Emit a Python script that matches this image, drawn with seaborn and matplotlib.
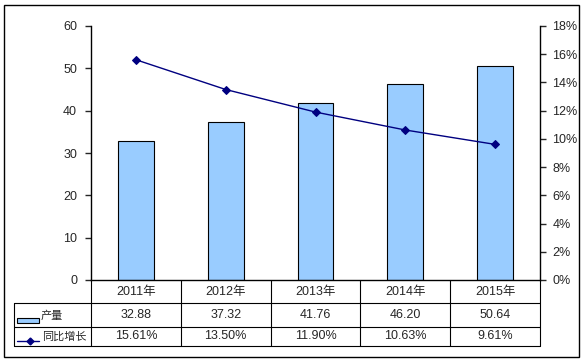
import numpy as np
import matplotlib
matplotlib.use('Agg')
import matplotlib.pyplot as plt
import matplotlib.transforms as mtransforms
from matplotlib.patches import Rectangle
from matplotlib.lines import Line2D
from matplotlib.ticker import FuncFormatter
import seaborn as sns

years = ['2011年', '2012年', '2013年', '2014年', '2015年']
output = [32.88, 37.32, 41.76, 46.20, 50.64]
growth = [15.61, 13.50, 11.90, 10.63, 9.61]
row_names = ['产量', '同比增长']

sns.set_style('white')
plt.rcParams['font.family'] = ['Liberation Sans', 'Noto Sans CJK SC']
plt.rcParams['font.size'] = 9

W, H = 585, 363
fig = plt.figure(figsize=(W / 100, H / 100), dpi=100)

# plot area in pixels: x 91..540, y 26..280
ax = fig.add_axes([91 / W, (H - 280) / H, (540 - 91) / W, (280 - 26) / H])
bar_color = '#99CCFF'
line_color = '#000080'

sns.barplot(x=years, y=output, color=bar_color, saturation=1, width=0.4,
            edgecolor='black', linewidth=0.8, ax=ax)
ax.set_xlim(-0.5, 4.5)
ax.set_ylim(0, 60)
ax.set_yticks(range(0, 61, 10))
ax.set_xticks([])
ax.set_xlabel('')
ax.set_ylabel('')
for s in ['top', 'right']:
    ax.spines[s].set_visible(False)
for s in ['left', 'bottom']:
    ax.spines[s].set_color('black')
    ax.spines[s].set_linewidth(1)
ax.tick_params(axis='y', direction='out', length=4, width=1, pad=6, left=True)

ax2 = ax.twinx()
sns.lineplot(x=np.arange(len(years)), y=growth, ax=ax2, color=line_color,
             marker='D', markersize=4, markeredgecolor=line_color, linewidth=1)
ax2.set_ylim(0, 18)
ax2.set_yticks(range(0, 19, 2))
ax2.yaxis.set_major_formatter(FuncFormatter(lambda v, p: f'{v:.0f}%'))
ax2.set_ylabel('')
for s in ['top', 'left', 'bottom']:
    ax2.spines[s].set_visible(False)
ax2.spines['right'].set_color('black')
ax2.spines['right'].set_linewidth(1)
ax2.tick_params(axis='y', direction='out', length=4, width=1, pad=5, right=True)

# data table below the plot area
trans = mtransforms.blended_transform_factory(ax.transData, ax.transAxes)
ph = 280 - 26
y0, y1, y2, y3 = 0, -23 / ph, -46.5 / ph, -66 / ph
lk = dict(color='black', lw=0.8, clip_on=False)
for y in [y1, y2, y3]:
    ax.plot([-0.5, 4.5], [y, y], transform=trans, **lk)
for x in np.arange(-0.5, 5.0, 1.0):
    ax.plot([x, x], [y0, y3], transform=trans, **lk)

for i, yr in enumerate(years):
    ax.text(i, (y0 + y1) / 2, yr, transform=trans, ha='center', va='center')
    ax.text(i, (y1 + y2) / 2, f'{output[i]:.2f}', transform=trans,
            ha='center', va='center')
    ax.text(i, (y2 + y3) / 2, f'{growth[i]:.2f}%', transform=trans,
            ha='center', va='center')

# legend column (figure pixel coords)
ftr = fig.transFigure
def fx(px):
    return px / W
def fy(py):
    return (H - py) / H

for py in [303.3, 326.7, 346]:
    fig.add_artist(Line2D([fx(13.5), fx(91)], [fy(py), fy(py)], color='black', lw=0.8, transform=ftr))
fig.add_artist(Line2D([fx(13.5), fx(13.5)], [fy(303.3), fy(346)], color='black', lw=0.8, transform=ftr))

fig.add_artist(Rectangle((fx(17), fy(323)), fx(22), 5 / H, facecolor=bar_color,
                         edgecolor='black', lw=0.8, transform=ftr))
fig.add_artist(Line2D([fx(17), fx(39)], [fy(340.5), fy(340.5)], color=line_color, lw=1,
                      transform=ftr))
fig.add_artist(Line2D([fx(30)], [fy(340.5)], color=line_color, marker='D', markersize=3.5,
                      transform=ftr))
fig.text(fx(41), fy(316), row_names[0], ha='left', va='center', fontsize=8)
fig.text(fx(42), fy(337), row_names[1], ha='left', va='center', fontsize=8)

# outer chart border
fig.add_artist(Rectangle((fx(3.5), fy(357)), (579 - 3.5) / W, (357 - 5) / H, fill=False,
                         edgecolor='black', lw=1, transform=ftr))

fig.savefig('out.png', dpi=100)
plt.close(fig)
